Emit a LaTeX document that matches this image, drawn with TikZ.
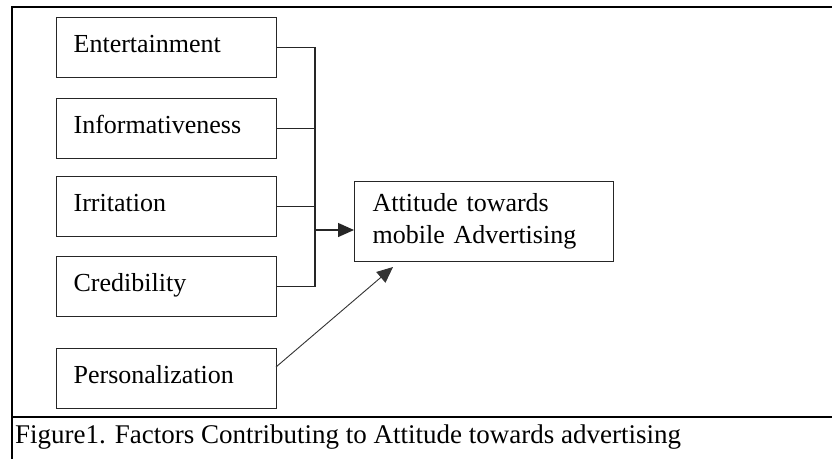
\documentclass[tikz,border=0pt]{standalone}
\usepackage{fontspec}
\setmainfont{Liberation Serif}
\usetikzlibrary{arrows.meta}
\begin{document}
\begin{tikzpicture}[x=1pt,y=-1pt,
  frame/.style={line width=2pt,black},
  factor/.style={draw=black!85,line width=1.3pt,rectangle,anchor=north west,
    minimum width=220pt,minimum height=60pt,inner xsep=17pt,inner ysep=0pt,
    text width=186pt,align=left,text height=17pt,text depth=7pt,
    font=\fontsize{26}{30}\selectfont},
  target/.style={draw=black!85,line width=1.3pt,rectangle,anchor=north west,
    minimum width=259pt,minimum height=80pt,inner xsep=18pt,inner ysep=0pt,
    text width=223pt,align=left,font=\fontsize{26}{32}\selectfont},
  link/.style={draw=black!85,line width=1.3pt},
  tip/.style={-{Triangle[length=16pt,width=14pt]}},
  caption/.style={anchor=base west,inner sep=0pt,font=\fontsize{27}{32}\selectfont}]
  % page area and frame
  \useasboundingbox[fill=white] (0,0) rectangle (832,459);
  \draw[frame] (832,7) -- (12,7) -- (12,459);
  \draw[frame] (12,417) -- (832,417);

  % factor boxes
  \node[factor] (ent)  at (56,17)  {Entertainment};
  \node[factor] (inf)  at (56,98)  {Informativeness};
  \node[factor] (irr)  at (56,176) {Irritation};
  \node[factor] (cred) at (56,256) {Credibility};
  \node[factor] (pers) at (56,348) {Personalization};

  % outcome box
  \node[target] (att) at (354,181) {Attitude towards\\mobile Advertising};

  % collecting bus and arrows
  \coordinate (bus) at (315,0);
  \coordinate (busout) at (315,230);
  \coordinate (attin) at (354,230);
  \coordinate (pstart) at (276,367);
  \coordinate (pend) at (393,267);
  \draw[link] (ent.east) -- (ent.east -| bus) -- (cred.east -| bus) -- (cred.east);
  \draw[link] (inf.east) -- (inf.east -| bus);
  \draw[link] (irr.east) -- (irr.east -| bus);
  \draw[link,tip] (busout) -- (attin);
  \draw[draw=black!80,line width=0.9pt,tip] (pstart) -- (pend);

  % caption
  \node[caption] (cap) at (15,443) {Figure1. Factors Contributing to Attitude towards advertising};
\end{tikzpicture}
\end{document}
